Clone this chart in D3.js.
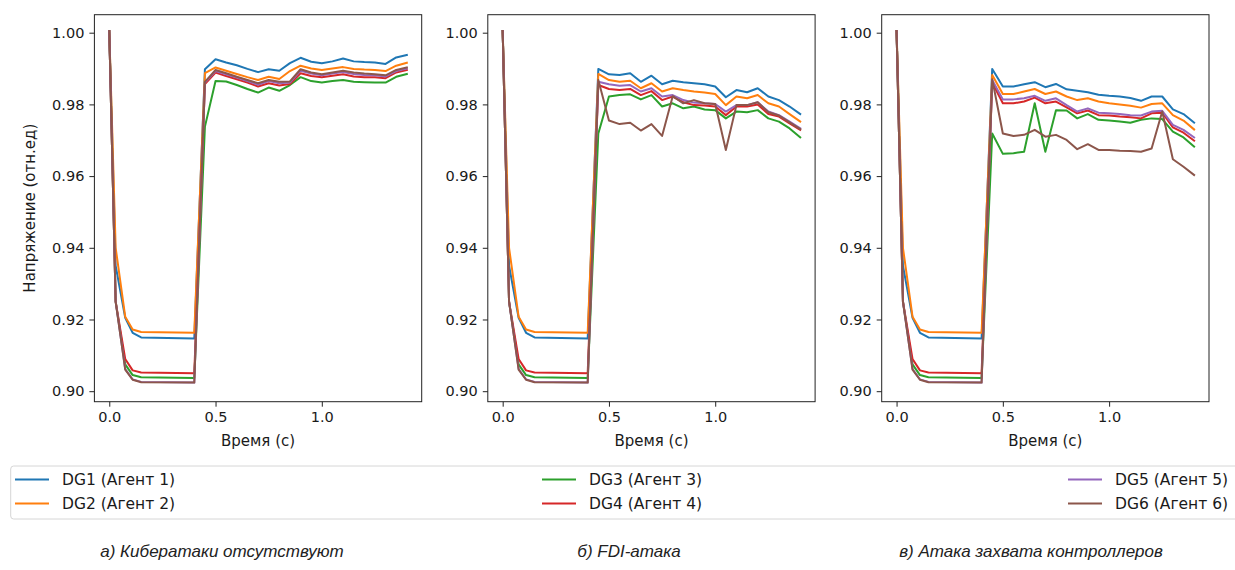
<!DOCTYPE html>
<html><head><meta charset="utf-8">
<script src="https://cdn.jsdelivr.net/npm/d3@7"></script>
<style>
html,body{margin:0;padding:0;background:#fff;}
svg{display:block;}
</style></head>
<body>
<svg id="chart" width="1235" height="570"></svg>
<script>
// ---------- DATA ----------
const seriesLabels = ["DG1 (Агент 1)","DG2 (Агент 2)","DG3 (Агент 3)","DG4 (Агент 4)","DG5 (Агент 5)","DG6 (Агент 6)"];
const seriesColors = ["#1f77b4","#ff7f0e","#2ca02c","#d62728","#9467bd","#8c564b"];
const panelCaptions = ["а) Кибератаки отсутствуют","б) FDI-атака","в) Атака захвата контроллеров"];
const xTicks = [0.0, 0.5, 1.0];
const yTicks = [0.90, 0.92, 0.94, 0.96, 0.98, 1.00];
const xLabel = "Время (с)";
const yLabel = "Напряжение (отн.ед)";

// start-up / sag phase (identical in all three scenarios)
const timesStart = [0, 0.03, 0.075, 0.11, 0.15, 0.4];
const startDG1 = [1.0005, 0.935, 0.9205, 0.9163, 0.9150, 0.9147];
const startDG2 = [1.0005, 0.940, 0.9208, 0.9172, 0.9165, 0.9163];
const startDG3 = [1.0005, 0.925, 0.9075, 0.9045, 0.9039, 0.9037];
const startDG4 = [1.0005, 0.925, 0.9090, 0.9058, 0.9052, 0.9050];
const startDG5 = [1.0005, 0.925, 0.9062, 0.9033, 0.9026, 0.9024];
const startDG6 = [1.0005, 0.925, 0.9060, 0.9032, 0.9025, 0.9024];

// recovery phase
const timesAfter = [0.45,0.5,0.55,0.6,0.65,0.7,0.75,0.8,0.85,0.9,0.95,1.0,1.05,1.1,1.15,1.2,1.25,1.3,1.35,1.4];

// а) no attack
const noAttackDG1 = [0.9898,0.9926,0.9917,0.9909,0.9899,0.9890,0.9898,0.9894,0.9915,0.9930,0.9919,0.9915,0.9920,0.9928,0.9920,0.9918,0.9917,0.9913,0.9931,0.9938];
const noAttackDG2 = [0.9887,0.9903,0.9894,0.9885,0.9876,0.9868,0.9877,0.9871,0.9893,0.9908,0.9900,0.9896,0.9900,0.9904,0.9899,0.9897,0.9896,0.9893,0.9908,0.9916];
const noAttackDG3 = [0.9738,0.9865,0.9864,0.9854,0.9843,0.9833,0.9847,0.9838,0.9854,0.9876,0.9865,0.9861,0.9865,0.9868,0.9863,0.9862,0.9861,0.9861,0.9877,0.9885];
const noAttackDG4 = [0.9857,0.9889,0.9879,0.9870,0.9861,0.9850,0.9859,0.9853,0.9857,0.9887,0.9879,0.9876,0.9880,0.9884,0.9878,0.9876,0.9876,0.9873,0.9889,0.9896];
const noAttackDG5 = [0.9861,0.9893,0.9884,0.9875,0.9865,0.9855,0.9865,0.9859,0.9861,0.9894,0.9886,0.9881,0.9886,0.9890,0.9885,0.9882,0.9881,0.9878,0.9893,0.9900];
const noAttackDG6 = [0.9863,0.9896,0.9887,0.9877,0.9868,0.9859,0.9868,0.9863,0.9864,0.9898,0.9889,0.9884,0.9889,0.9894,0.9889,0.9886,0.9884,0.9881,0.9896,0.9903];

// б) FDI attack
const fdiDG1 = [0.9899,0.9884,0.9882,0.9887,0.9863,0.9880,0.9856,0.9866,0.9862,0.9859,0.9856,0.9850,0.9820,0.9840,0.9834,0.9845,0.9822,0.9812,0.9794,0.9773];
const fdiDG2 = [0.9885,0.9868,0.9863,0.9866,0.9845,0.9859,0.9836,0.9845,0.9840,0.9836,0.9833,0.9829,0.9798,0.9822,0.9817,0.9826,0.9803,0.9794,0.9773,0.9752];
const fdiDG3 = [0.9719,0.9822,0.9826,0.9828,0.9814,0.9826,0.9794,0.9803,0.9789,0.9794,0.9786,0.9784,0.9761,0.9780,0.9778,0.9784,0.9761,0.9752,0.9733,0.9708];
const fdiDG4 = [0.9854,0.9843,0.9840,0.9843,0.9826,0.9837,0.9812,0.9822,0.9806,0.9798,0.9797,0.9794,0.9770,0.9794,0.9794,0.9800,0.9773,0.9766,0.9747,0.9729];
const fdiDG5 = [0.9863,0.9856,0.9852,0.9854,0.9836,0.9845,0.9822,0.9826,0.9812,0.9805,0.9803,0.9801,0.9780,0.9798,0.9798,0.9806,0.9780,0.9770,0.9752,0.9733];
const fdiDG6 = [0.9868,0.9755,0.9745,0.9749,0.9727,0.9745,0.9712,0.9823,0.9803,0.9812,0.9803,0.9801,0.9673,0.9798,0.9798,0.9806,0.9778,0.9769,0.9750,0.9731];

// в) controller hijack attack
const hijackDG1 = [0.9899,0.9850,0.9850,0.9856,0.9862,0.9848,0.9857,0.9842,0.9838,0.9834,0.9827,0.9824,0.9822,0.9818,0.9810,0.9822,0.9822,0.9786,0.9773,0.9749];
const hijackDG2 = [0.9882,0.9829,0.9829,0.9836,0.9843,0.9829,0.9836,0.9822,0.9812,0.9817,0.9808,0.9803,0.9800,0.9796,0.9791,0.9801,0.9803,0.9770,0.9755,0.9730];
const hijackDG3 = [0.9719,0.9662,0.9664,0.9668,0.9803,0.9668,0.9784,0.9783,0.9761,0.9773,0.9757,0.9755,0.9752,0.9749,0.9757,0.9761,0.9759,0.9724,0.9708,0.9682];
const hijackDG4 = [0.9861,0.9803,0.9803,0.9808,0.9819,0.9803,0.9808,0.9792,0.9775,0.9783,0.9770,0.9769,0.9766,0.9764,0.9761,0.9775,0.9777,0.9736,0.9721,0.9699];
const hijackDG5 = [0.9868,0.9814,0.9814,0.9817,0.9824,0.9810,0.9817,0.9798,0.9780,0.9789,0.9777,0.9775,0.9773,0.9770,0.9769,0.9780,0.9782,0.9743,0.9729,0.9708];
const hijackDG6 = [0.9870,0.9719,0.9712,0.9715,0.9729,0.9710,0.9715,0.9701,0.9675,0.9689,0.9673,0.9673,0.9671,0.9670,0.9668,0.9677,0.9780,0.9647,0.9626,0.9603];

// ---------- assembly ----------
const starts = [startDG1,startDG2,startDG3,startDG4,startDG5,startDG6];
const panelsAfter = [
  [noAttackDG1,noAttackDG2,noAttackDG3,noAttackDG4,noAttackDG5,noAttackDG6],
  [fdiDG1,fdiDG2,fdiDG3,fdiDG4,fdiDG5,fdiDG6],
  [hijackDG1,hijackDG2,hijackDG3,hijackDG4,hijackDG5,hijackDG6]
];
const allTimes = timesStart.concat(timesAfter);

// ---------- layout ----------
const svg = d3.select("#chart");
const panelLeft = [94.4, 487.8, 881.7];
const panelW = 327.3, panelTop = 14.7, panelH = 387;
const font = "DejaVu Sans, sans-serif";
const textColor = "#1a1a1a";

const x = d3.scaleLinear().domain([-0.07, 1.47]).range([0, panelW]);
const y = d3.scaleLinear().domain([0.89707, 1.00502]).range([panelH, 0]);

panelsAfter.forEach((after, pi) => {
  const g = svg.append("g").attr("transform", `translate(${panelLeft[pi]},${panelTop})`);
  const clipId = "clip" + pi;
  g.append("clipPath").attr("id", clipId).append("rect").attr("width", panelW).attr("height", panelH);

  const line = d3.line().x(d => x(d[0])).y(d => y(d[1]));
  const lines = g.append("g").attr("clip-path", `url(#${clipId})`);
  after.forEach((vals, si) => {
    const values = starts[si].concat(vals);
    const pts = allTimes.map((t, i) => [t, values[i]]);
    lines.append("path").datum(pts)
      .attr("d", line)
      .attr("fill", "none")
      .attr("stroke", seriesColors[si])
      .attr("stroke-width", 2)
      .attr("stroke-linejoin", "round")
      .attr("stroke-linecap", "square");
  });

  // axes
  const xAxis = d3.axisBottom(x).tickValues(xTicks).tickFormat(d3.format(".1f")).tickSize(5).tickPadding(5);
  const yAxis = d3.axisLeft(y).tickValues(yTicks).tickFormat(d3.format(".2f")).tickSize(5).tickPadding(5);
  const gx = g.append("g").attr("transform", `translate(0,${panelH})`).call(xAxis);
  const gy = g.append("g").call(yAxis);
  [gx, gy].forEach(a => {
    a.select(".domain").remove();
    a.selectAll(".tick line").attr("stroke", "#222").attr("stroke-width", 1);
    a.selectAll(".tick text").attr("fill", textColor).style("font-family", font).style("font-size", "14.5px");
  });

  // frame
  g.append("rect").attr("width", panelW).attr("height", panelH)
    .attr("fill", "none").attr("stroke", "#222").attr("stroke-width", 1);

  // x label
  g.append("text").attr("x", panelW / 2).attr("y", panelH + 44)
    .attr("text-anchor", "middle").attr("fill", textColor)
    .style("font-family", font).style("font-size", "15px").text(xLabel);

  if (pi === 0) {
    g.append("text")
      .attr("transform", `translate(${30 - panelLeft[0]},${panelH / 2}) rotate(-90)`)
      .attr("text-anchor", "middle").attr("dominant-baseline", "central").attr("fill", textColor)
      .style("font-family", font).style("font-size", "15px").text(yLabel);
  }
});

// ---------- legend ----------
const legend = svg.append("g");
legend.append("rect").attr("x", 10.7).attr("y", 466).attr("width", 1240).attr("height", 53)
  .attr("rx", 3).attr("fill", "#fff").attr("stroke", "#d6d6d6").attr("stroke-width", 1);
const colHandle = [15, 542, 1068];
const rowY = [479.5, 503.5];
seriesLabels.forEach((lab, i) => {
  const col = Math.floor(i / 2), row = i % 2;
  const it = legend.append("g");
  it.append("line").attr("x1", colHandle[col]).attr("x2", colHandle[col] + 34)
    .attr("y1", rowY[row]).attr("y2", rowY[row])
    .attr("stroke", seriesColors[i]).attr("stroke-width", 2);
  it.append("text").attr("x", colHandle[col] + 47).attr("y", rowY[row])
    .attr("dominant-baseline", "central").attr("fill", textColor)
    .style("font-family", font).style("font-size", "15.5px").text(lab);
});

// ---------- captions ----------
const captionX = [222, 629, 1031];
panelCaptions.forEach((c, i) => {
  svg.append("text").attr("x", captionX[i]).attr("y", 557)
    .attr("text-anchor", "middle").attr("fill", "#222")
    .style("font-family", "Liberation Sans, Arial, sans-serif").style("font-style", "italic")
    .style("font-size", "17px").text(c);
});
</script>
</body></html>
